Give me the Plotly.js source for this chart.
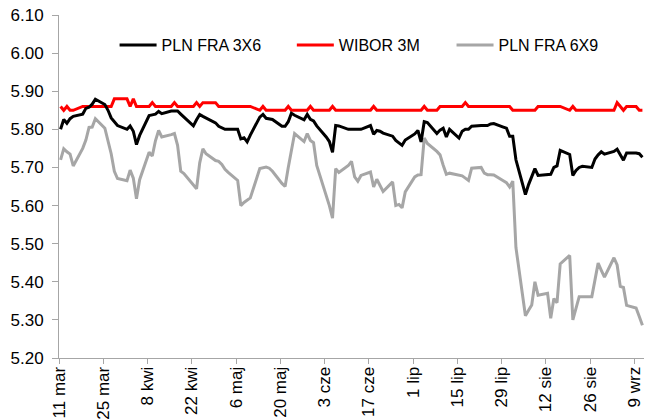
<!DOCTYPE html>
<html>
<head>
<meta charset="utf-8">
<script src="https://cdn.plot.ly/plotly-3.0.1.min.js"></script>
<style>
  html, body { margin: 0; padding: 0; background: #ffffff; }
  #chart { width: 664px; height: 419px; }
</style>
</head>
<body>
<div id="chart"></div>
<script>
// Business days (2024)
const dates = [
  '2024-03-11','2024-03-12','2024-03-13','2024-03-14','2024-03-15',
  '2024-03-18','2024-03-19','2024-03-20','2024-03-21','2024-03-22',
  '2024-03-25','2024-03-26','2024-03-27','2024-03-28','2024-03-29',
  '2024-04-01','2024-04-02','2024-04-03','2024-04-04','2024-04-05',
  '2024-04-08','2024-04-09','2024-04-10','2024-04-11','2024-04-12',
  '2024-04-15','2024-04-16','2024-04-17','2024-04-18','2024-04-19',
  '2024-04-22','2024-04-23','2024-04-24','2024-04-25','2024-04-26',
  '2024-04-29','2024-04-30','2024-05-01','2024-05-02','2024-05-03',
  '2024-05-06','2024-05-07','2024-05-08','2024-05-09','2024-05-10',
  '2024-05-13','2024-05-14','2024-05-15','2024-05-16','2024-05-17',
  '2024-05-20','2024-05-21','2024-05-22','2024-05-23','2024-05-24',
  '2024-05-27','2024-05-28','2024-05-29','2024-05-30','2024-05-31',
  '2024-06-03','2024-06-04','2024-06-05','2024-06-06','2024-06-07',
  '2024-06-10','2024-06-11','2024-06-12','2024-06-13','2024-06-14',
  '2024-06-17','2024-06-18','2024-06-19','2024-06-20','2024-06-21',
  '2024-06-24','2024-06-25','2024-06-26','2024-06-27','2024-06-28',
  '2024-07-01','2024-07-02','2024-07-03','2024-07-04','2024-07-05',
  '2024-07-08','2024-07-09','2024-07-10','2024-07-11','2024-07-12',
  '2024-07-15','2024-07-16','2024-07-17','2024-07-18','2024-07-19',
  '2024-07-22','2024-07-23','2024-07-24','2024-07-25','2024-07-26',
  '2024-07-29','2024-07-30','2024-07-31','2024-08-01','2024-08-02',
  '2024-08-05','2024-08-06','2024-08-07','2024-08-08','2024-08-09',
  '2024-08-12','2024-08-13','2024-08-14','2024-08-15','2024-08-16',
  '2024-08-19','2024-08-20','2024-08-21','2024-08-22','2024-08-23',
  '2024-08-26','2024-08-27','2024-08-28','2024-08-29','2024-08-30',
  '2024-09-02','2024-09-03','2024-09-04','2024-09-05','2024-09-06',
  '2024-09-09','2024-09-10','2024-09-11'
];

const fra3x6 = [
  5.800,5.826,5.816,5.828,5.834,
  5.840,5.855,5.858,5.866,5.879,
  5.865,5.850,5.830,5.819,5.810,
  5.800,5.809,5.795,5.760,5.784,
  5.836,5.838,5.840,5.847,5.841,
  5.848,5.848,5.848,5.840,5.832,
  5.809,5.825,5.839,5.834,5.830,
  5.817,5.808,5.804,5.800,5.800,
  5.800,5.775,5.778,5.767,5.785,
  5.832,5.839,5.829,5.828,5.826,
  5.808,5.808,5.820,5.842,5.837,
  5.825,5.839,5.826,5.822,5.809,
  5.780,5.768,5.740,5.810,5.809,
  5.800,5.800,5.800,5.800,5.800,
  5.810,5.787,5.797,5.795,5.790,
  5.782,5.771,5.765,5.758,5.772,
  5.788,5.797,5.767,5.820,5.818,
  5.789,5.798,5.803,5.780,5.800,
  5.777,5.795,5.800,5.800,5.808,
  5.810,5.810,5.810,5.814,5.815,
  5.806,5.803,5.782,5.782,5.720,
  5.629,5.655,5.675,5.697,5.679,
  5.680,5.682,5.700,5.704,5.745,
  5.734,5.679,5.692,5.700,5.703,
  5.700,5.722,5.733,5.741,5.735,
  5.742,5.748,5.733,5.719,5.738,
  5.738,5.736,5.727
];

const wibor3m = [
  5.86,5.85,5.86,5.85,5.85,
  5.86,5.86,5.86,5.86,5.86,
  5.86,5.86,5.86,5.88,5.88,
  5.88,5.86,5.88,5.86,5.86,
  5.86,5.87,5.86,5.86,5.86,
  5.86,5.87,5.86,5.86,5.86,
  5.86,5.87,5.86,5.87,5.87,
  5.87,5.86,5.86,5.86,5.86,
  5.86,5.86,5.86,5.86,5.86,
  5.85,5.86,5.85,5.85,5.85,
  5.85,5.85,5.86,5.85,5.85,
  5.85,5.85,5.86,5.85,5.85,
  5.85,5.85,5.86,5.85,5.85,
  5.85,5.85,5.85,5.85,5.85,
  5.85,5.86,5.85,5.85,5.85,
  5.85,5.85,5.85,5.85,5.85,
  5.85,5.85,5.85,5.86,5.85,
  5.85,5.86,5.86,5.86,5.86,
  5.86,5.86,5.87,5.86,5.86,
  5.86,5.86,5.86,5.86,5.86,
  5.86,5.86,5.86,5.85,5.85,
  5.85,5.85,5.85,5.85,5.86,
  5.86,5.86,5.86,5.86,5.86,
  5.85,5.86,5.85,5.85,5.85,
  5.85,5.85,5.85,5.85,5.85,
  5.85,5.87,5.86,5.85,5.86,
  5.86,5.85,5.85
];

const fra6x9 = [
  5.720,5.749,5.741,5.735,5.704,
  5.750,5.772,5.805,5.806,5.828,
  5.803,5.767,5.736,5.690,5.671,
  5.665,5.693,5.672,5.618,5.668,
  5.740,5.730,5.770,5.797,5.780,
  5.786,5.789,5.758,5.690,5.684,
  5.655,5.644,5.712,5.749,5.736,
  5.718,5.716,5.708,5.695,5.687,
  5.666,5.600,5.608,5.614,5.620,
  5.697,5.700,5.701,5.698,5.690,
  5.658,5.650,5.700,5.745,5.789,
  5.768,5.789,5.771,5.765,5.705,
  5.627,5.600,5.567,5.697,5.687,
  5.705,5.716,5.675,5.664,5.679,
  5.688,5.649,5.669,5.652,5.637,
  5.662,5.600,5.603,5.594,5.636,
  5.675,5.680,5.681,5.777,5.763,
  5.742,5.733,5.706,5.682,5.685,
  5.679,5.678,5.672,5.666,5.698,
  5.700,5.685,5.681,5.681,5.680,
  5.665,5.660,5.649,5.664,5.490,
  5.311,5.325,5.339,5.400,5.365,
  5.370,5.304,5.356,5.345,5.447,
  5.469,5.300,5.330,5.361,5.361,
  5.361,5.405,5.449,5.430,5.412,
  5.463,5.444,5.388,5.385,5.338,
  5.331,5.309,5.286
];

const tickDates = ['2024-03-11','2024-03-25','2024-04-08','2024-04-22','2024-05-06','2024-05-20','2024-06-03','2024-06-17','2024-07-01','2024-07-15','2024-07-29','2024-08-12','2024-08-26','2024-09-09'];
const tickLabels = ['11 mar','25 mar','8 kwi','22 kwi','6 maj','20 maj','3 cze','17 cze','1 lip','15 lip','29 lip','12 sie','26 sie','9 wrz'];
const yTicks = [5.2,5.3,5.4,5.5,5.6,5.7,5.8,5.9,6.0,6.1];

const FONT = 'Liberation Sans, Arial, sans-serif';
const DAY = 86400000;

const common = {
  type: 'scatter', mode: 'lines', x: dates,
  xperiod: DAY, xperiodalignment: 'middle',
  hoverinfo: 'skip'
};

const traces = [
  Object.assign({}, common, { y: fra6x9, name: 'PLN FRA 6X9', legend: 'legend3',
    line: { color: '#a6a6a6', width: 3 } }),
  Object.assign({}, common, { y: wibor3m, name: 'WIBOR 3M', legend: 'legend2',
    line: { color: '#ff0000', width: 3 } }),
  Object.assign({}, common, { y: fra3x6, name: 'PLN FRA 3X6', legend: 'legend',
    line: { color: '#000000', width: 3 } })
];

function legendAt(xp) {
  return {
    x: xp, xanchor: 'left', y: 0.9125, yanchor: 'middle', orientation: 'h',
    font: { family: FONT, size: 16, color: '#000' },
    bgcolor: 'rgba(0,0,0,0)', borderwidth: 0, itemwidth: 37
  };
}

const layout = {
  width: 664, height: 419,
  margin: { l: 59, r: 20, t: 15, b: 61, pad: 0 },
  paper_bgcolor: '#ffffff', plot_bgcolor: '#ffffff',
  font: { family: FONT, size: 16, color: '#000' },
  showlegend: true,
  legend: legendAt(0.095),
  legend2: legendAt(0.398),
  legend3: legendAt(0.671),
  xaxis: {
    type: 'date',
    range: ['2024-03-11', '2024-09-12'],
    tickmode: 'array', tickvals: tickDates, ticktext: tickLabels,
    tickangle: -90,
    ticks: 'outside', ticklen: 5, tickwidth: 1, tickcolor: '#a6a6a6',
    showline: true, linecolor: '#a6a6a6', linewidth: 1,
    showgrid: false, zeroline: false,
    ticklabelstandoff: -4,
    tickfont: { family: FONT, size: 17, color: '#000' }
  },
  yaxis: {
    range: [5.2, 6.1],
    tickmode: 'array', tickvals: yTicks, tickformat: '.2f',
    ticks: 'outside', ticklen: 6, tickwidth: 1, tickcolor: '#a6a6a6',
    showline: true, linecolor: '#a6a6a6', linewidth: 1,
    showgrid: false, zeroline: false,
    ticklabelstandoff: 5,
    tickfont: { family: FONT, size: 17, color: '#000' }
  }
};

Plotly.newPlot('chart', traces, layout, { displayModeBar: false, staticPlot: true });
</script>
</body>
</html>
